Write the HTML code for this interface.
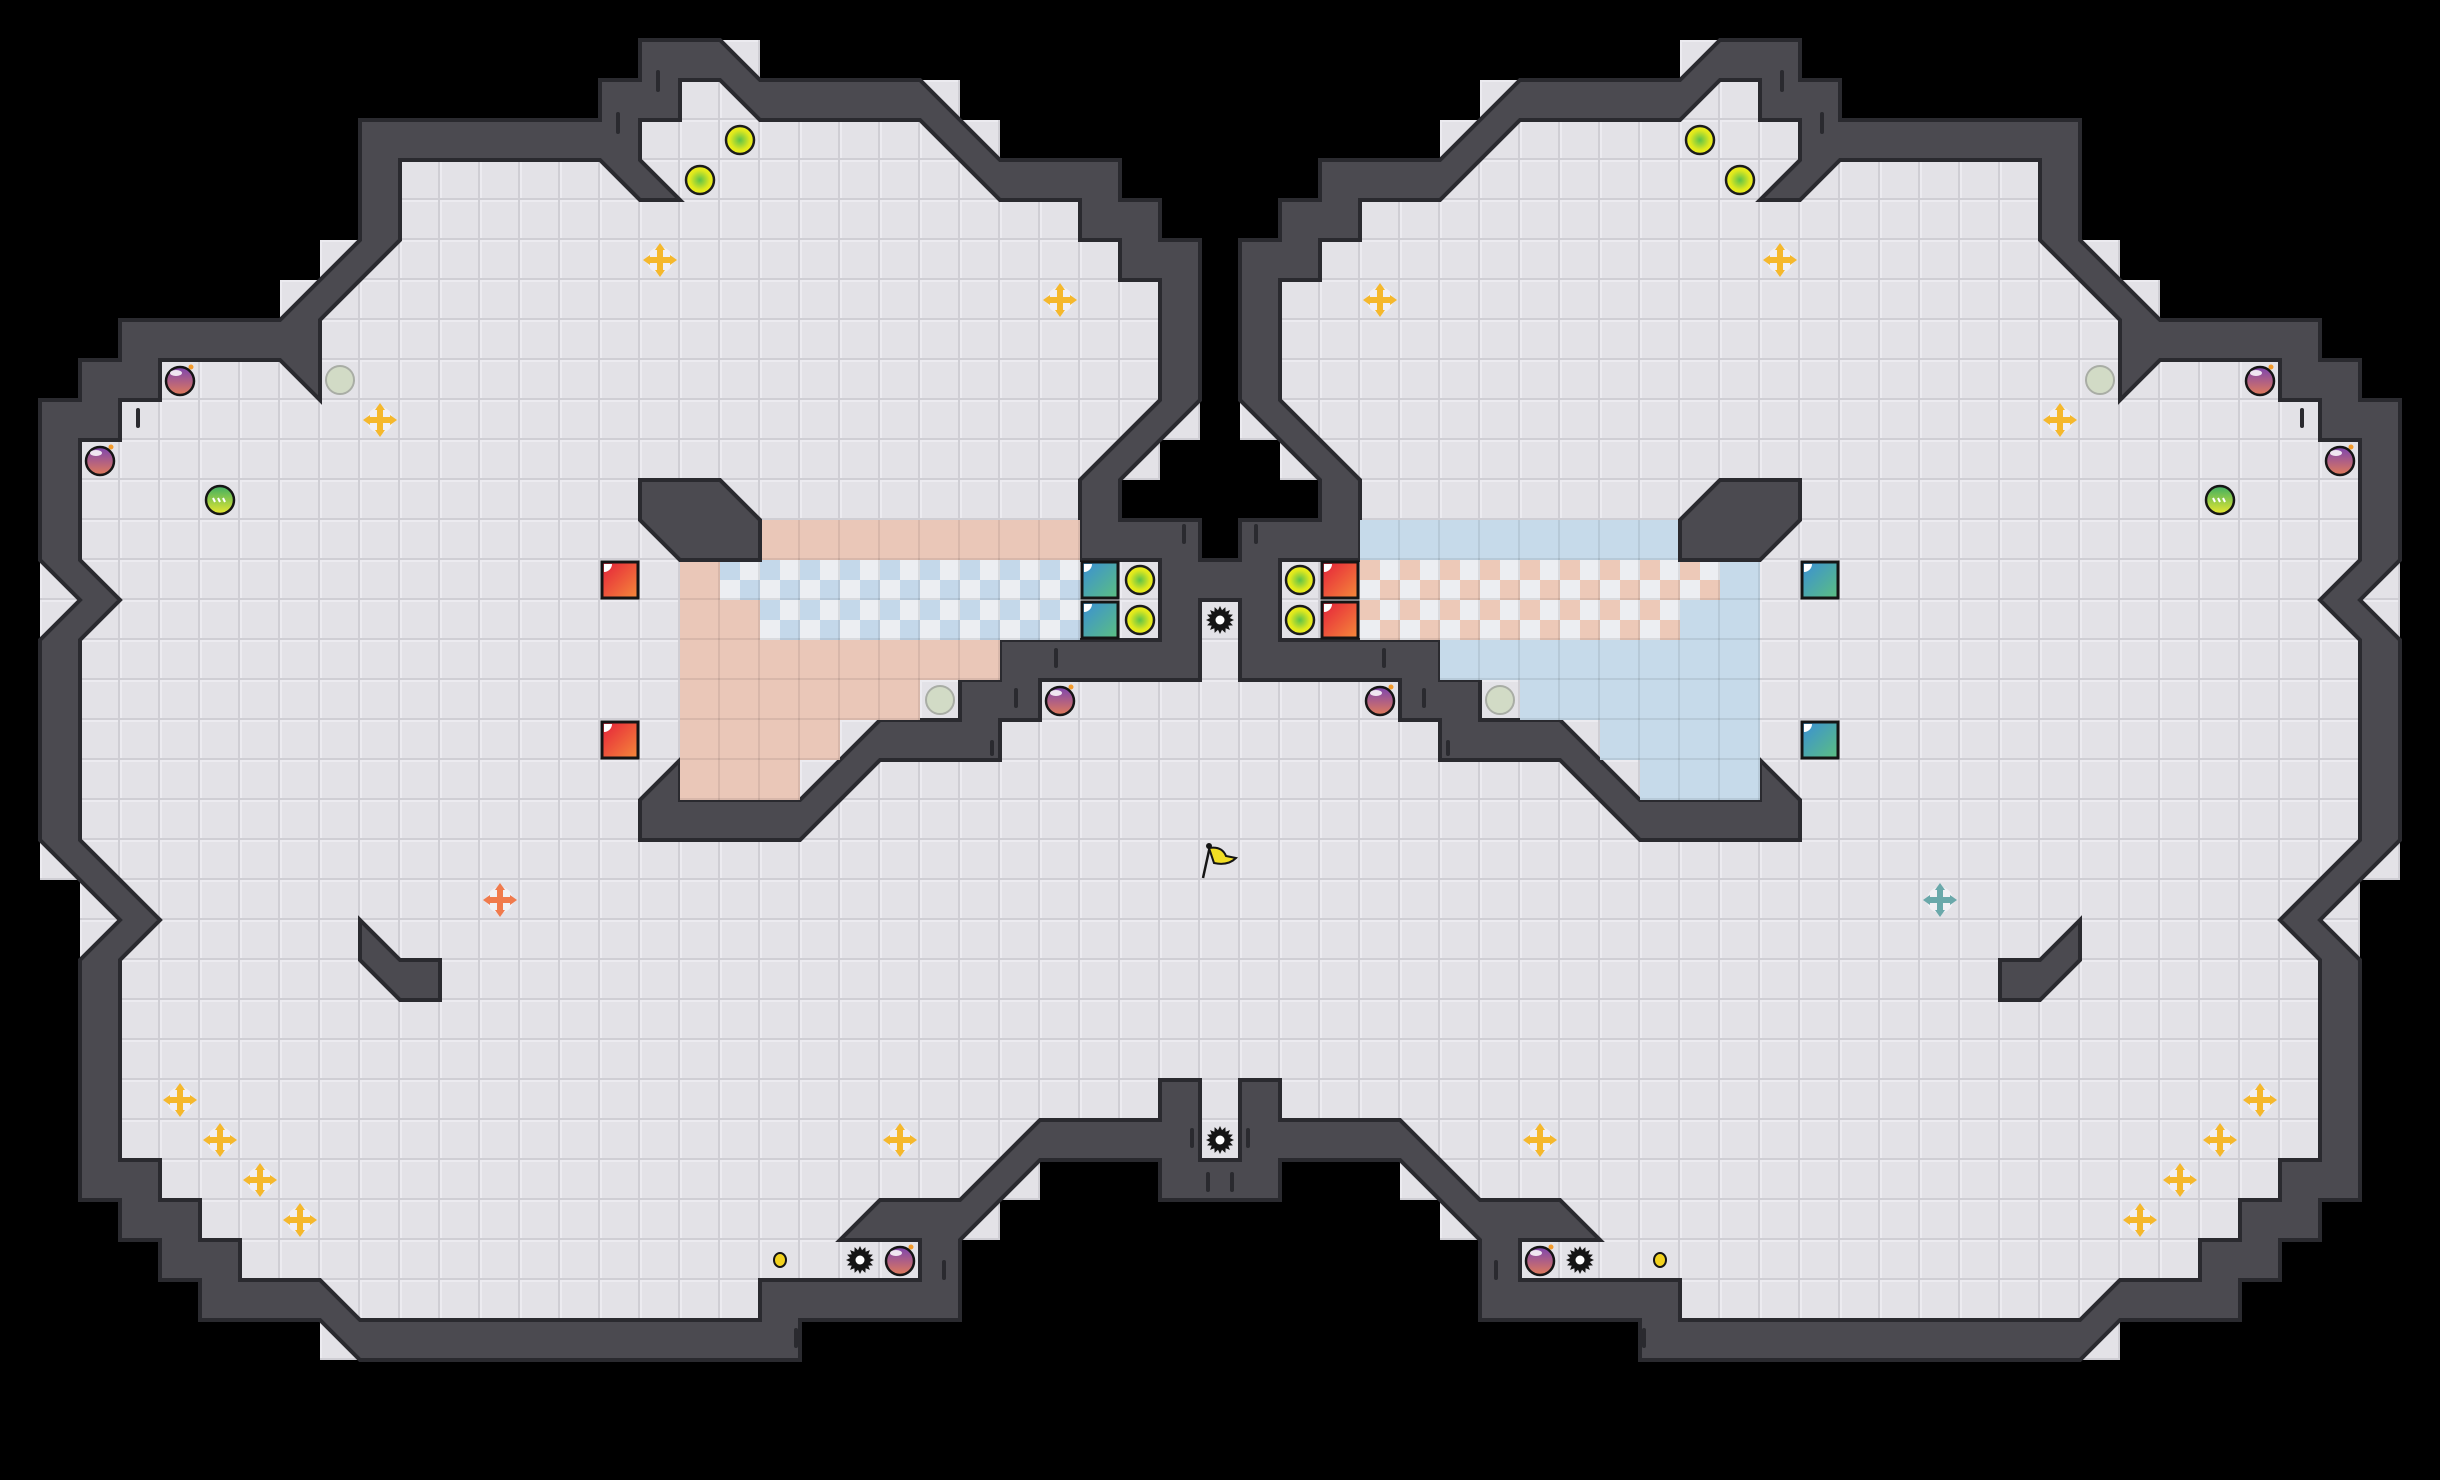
<!DOCTYPE html>
<html><head><meta charset="utf-8">
<style>html,body{margin:0;padding:0;background:#000;}svg{display:block;}</style>
</head><body>
<svg id="s" xmlns="http://www.w3.org/2000/svg" width="2440" height="1480" viewBox="0 0 2440 1480">
<defs>
<pattern id="fl" patternUnits="userSpaceOnUse" width="40" height="40">
<rect width="40" height="40" fill="#e3e2e7"/>
<rect x="0" y="0" width="40" height="2" fill="#ecebf0"/>
<rect x="0" y="0" width="2" height="40" fill="#ecebf0"/>
<rect x="0" y="38" width="40" height="2" fill="#cfced4"/>
<rect x="38" y="0" width="2" height="40" fill="#cfced4"/>
</pattern>
<pattern id="ln" patternUnits="userSpaceOnUse" width="40" height="40">
<rect x="0" y="38" width="40" height="2" fill="rgba(0,0,0,0.08)"/>
<rect x="38" y="0" width="2" height="40" fill="rgba(0,0,0,0.08)"/>
</pattern>
<radialGradient id="gy" cx="0.5" cy="0.5" r="0.5"><stop offset="0" stop-color="#5cc24a"/><stop offset="0.7" stop-color="#dfe81e"/><stop offset="1" stop-color="#eef01a"/></radialGradient>
<linearGradient id="gb" x1="0" y1="0" x2="0" y2="1"><stop offset="0" stop-color="#7d45b0"/><stop offset="1" stop-color="#e07a5a"/></linearGradient>
<linearGradient id="gg" x1="0" y1="0" x2="0" y2="1"><stop offset="0" stop-color="#3fae62"/><stop offset="1" stop-color="#e8e830"/></linearGradient>
<linearGradient id="gr" x1="0" y1="0" x2="1" y2="1"><stop offset="0" stop-color="#e5203a"/><stop offset="1" stop-color="#f58a3a"/></linearGradient>
<linearGradient id="gt" x1="0" y1="0" x2="1" y2="1"><stop offset="0" stop-color="#3a8fd6"/><stop offset="1" stop-color="#5cbf80"/></linearGradient>
</defs>
<rect width="2440" height="1480" fill="#000"/>
<g id="g"></g>
</svg>
<script>
(function(){
var S=40,out=[];
var Lout=[[30.5,14],[30,14],[30,13],[28,13],[28,12],[30,10],[30,6],[29,6],[29,5],[28,5],[28,4],[25,4],[23,2],[19,2],[18,1],[16,1],[16,2],[15,2],[15,3],[9,3],[9,6],[7,8],[3,8],[3,9],[2,9],[2,10],[1,10],[1,14],[2,15],[1,16],[1,21],[3,23],[2,24],[2,30],[3,30],[3,31],[4,31],[4,32],[5,32],[5,33],[8,33],[9,34],[20,34],[20,33],[24,33],[24,31],[26,29],[29,29],[29,30],[30.5,30]];
var Lin=[[30.5,15],[30,15],[30,17],[26,17],[26,18],[25,18],[25,19],[22,19],[20,21],[16,21],[16,20],[17,19],[17,20],[20,20],[22,18],[24,18],[24,17],[25,17],[25,16],[29,16],[29,14],[27,14],[27,12],[29,10],[29,7],[28,7],[28,6],[27,6],[27,5],[25,5],[23,3],[19,3],[18,2],[17,2],[17,3],[16,3],[16,4],[17,5],[16,5],[15,4],[10,4],[10,6],[8,8],[8,10],[7,9],[4,9],[4,10],[3,10],[3,11],[2,11],[2,14],[3,15],[2,16],[2,21],[4,23],[3,24],[3,29],[4,29],[4,30],[5,30],[5,31],[6,31],[6,32],[8,32],[9,33],[19,33],[19,32],[23,32],[23,31],[21,31],[22,30],[24,30],[26,28],[29,28],[29,27],[30,27],[30,29],[30.5,29]];
function full(L){var r=L.slice();for(var i=L.length-1;i>=0;i--){r.push([61-L[i][0],L[i][1]]);}return r;}
function pts(P){return P.map(function(p){return (p[0]*S)+','+(p[1]*S);}).join(' ');}
var FO=full(Lout),FI=full(Lin);
for(var i=0;i<FO.length;i++){var a=FO[i],b=FO[(i+1)%FO.length];var dx=b[0]-a[0],dy=b[1]-a[1];
 if(dx!==0&&dy!==0&&Math.abs(dx)===Math.abs(dy)){var sx=dx>0?1:-1,sy=dy>0?1:-1;
  for(var k=0;k<Math.abs(dx);k++){var xa=a[0]+sx*k,ya=a[1]+sy*k;out.push('<rect x="'+(Math.min(xa,xa+sx)*S)+'" y="'+(Math.min(ya,ya+sy)*S)+'" width="40" height="40" fill="url(#fl)"/>');}}}
out.push('<polygon points="'+pts(FO)+'" fill="#4b4a50" stroke="#2a2a2f" stroke-width="4" stroke-linejoin="miter"/>');
out.push('<polygon points="'+pts(FI)+'" fill="url(#fl)" stroke="#2a2a2f" stroke-width="4" stroke-linejoin="miter"/>');
var zones={13:[19,26],16:[17,24],17:[17,22],18:[17,20],19:[17,19]};
function zcell(c,r,col){out.push('<rect x="'+c*S+'" y="'+r*S+'" width="40" height="40" fill="'+col+'"/><rect x="'+c*S+'" y="'+r*S+'" width="40" height="40" fill="url(#ln)"/>');}
function chk(c,r,col){var x0=c*S,y0=r*S;out.push('<rect x="'+x0+'" y="'+y0+'" width="40" height="40" fill="#eceef2"/>');
 for(var a=0;a<2;a++)for(var b=0;b<2;b++){var X=x0+a*20,Y=y0+b*20;if(((X/20)+(Y/20))%2===0)out.push('<rect x="'+X+'" y="'+Y+'" width="20" height="20" fill="'+col+'"/>');}
 out.push('<rect x="'+x0+'" y="'+y0+'" width="40" height="40" fill="url(#ln)"/>');}
var PK='#eac7b8',BL='#c6daea',CB='#c4d8ea',CP='#edc9b8';
function zrow(r,c0,c1){for(var c=c0;c<=c1;c++){zcell(c,r,PK);zcell(60-c,r,BL);}}
for(var r in zones)zrow(+r,zones[r][0],zones[r][1]);
zrow(14,17,17);zrow(15,17,18);
for(var c=18;c<=26;c++){chk(c,14,CB);chk(60-c,14,CP);}
for(c=19;c<=26;c++){chk(c,15,CB);chk(60-c,15,CP);}
function mir(P){return P.map(function(p){return [61-p[0],p[1]];});}
var ob=[[[16,12],[18,12],[19,13],[19,14],[17,14],[16,13]],[[9,23],[10,24],[11,24],[11,25],[10,25],[9,24]]];
ob.forEach(function(P){[P,mir(P)].forEach(function(Q){out.push('<polygon points="'+pts(Q)+'" fill="#4b4a50" stroke="#2a2a2f" stroke-width="4"/>');});});
var ticks=[[16.45,1.75,0.55],[15.45,2.8,0.55],[4.45,9.2,0.5],[3.45,10.2,0.5],[25.4,17.2,0.5],[26.4,16.2,0.5],[29.6,13.1,0.5],[24.8,18.5,0.4],[19.9,33.2,0.5],[23.6,31.5,0.5],[29.8,28.2,0.5],[30.8,29.3,0.5]];
ticks.forEach(function(t){[t[0],61-t[0]].forEach(function(x){out.push('<rect x="'+(x*S-2)+'" y="'+(t[1]*S)+'" width="4" height="'+(t[2]*S)+'" rx="2" fill="#2a2a2f"/>');});});
function C(c){return (c+0.5)*S;}
function ball(c,r){out.push('<circle cx="'+C(c)+'" cy="'+C(r)+'" r="14" fill="url(#gy)" stroke="#1b1b1b" stroke-width="2.5"/>');}
function block(c,r,g){var x=c*S+2,y=r*S+2;out.push('<rect x="'+x+'" y="'+y+'" width="36" height="36" fill="url(#'+g+')" stroke="#151515" stroke-width="3"/><path d="M'+(x+2)+' '+(y+2)+' h8 a8 8 0 0 1 -8 8 z" fill="#fff"/>');}
function cross(c,r,col){var x=C(c),y=C(r);out.push('<circle cx="'+x+'" cy="'+y+'" r="13" fill="#f4f4f7" opacity="0.8"/>'+
 '<rect x="'+(x-13)+'" y="'+(y-3)+'" width="26" height="6" fill="'+col+'"/><rect x="'+(x-3)+'" y="'+(y-13)+'" width="6" height="26" fill="'+col+'"/>'+
 '<polygon points="'+x+','+(y-17)+' '+(x-5)+','+(y-10)+' '+(x+5)+','+(y-10)+'" fill="'+col+'"/>'+
 '<polygon points="'+x+','+(y+17)+' '+(x-5)+','+(y+10)+' '+(x+5)+','+(y+10)+'" fill="'+col+'"/>'+
 '<polygon points="'+(x-17)+','+y+' '+(x-10)+','+(y-5)+' '+(x-10)+','+(y+5)+'" fill="'+col+'"/>'+
 '<polygon points="'+(x+17)+','+y+' '+(x+10)+','+(y-5)+' '+(x+10)+','+(y+5)+'" fill="'+col+'"/>');}
function grey(c,r){out.push('<circle cx="'+C(c)+'" cy="'+C(r)+'" r="14" fill="#d2dbc6" stroke="#a9ada5" stroke-width="2"/>');}
function bomb(c,r){var x=C(c),y=C(r)+1;out.push('<circle cx="'+x+'" cy="'+y+'" r="14" fill="url(#gb)" stroke="#151515" stroke-width="2.5"/><ellipse cx="'+(x-4)+'" cy="'+(y-8)+'" rx="6" ry="3" fill="#fff" opacity="0.85"/><circle cx="'+(x+11)+'" cy="'+(y-14)+'" r="2.5" fill="#f39a2a"/>');}
function gball(c,r){var x=C(c),y=C(r);out.push('<circle cx="'+x+'" cy="'+y+'" r="14" fill="url(#gg)" stroke="#151515" stroke-width="2.5"/><path d="M'+(x-7)+' '+(y-2)+' l2 4 M'+(x-2)+' '+(y-2)+' l2 4 M'+(x+3)+' '+(y-2)+' l2 4" stroke="#fff" stroke-width="2"/>');}
function spike(c,r){var x=C(c),y=C(r),p=[];for(var k=0;k<32;k++){var a=k*Math.PI/16,R=k%2?10:14;p.push((x+R*Math.cos(a)).toFixed(1)+','+(y+R*Math.sin(a)).toFixed(1));}
 out.push('<polygon points="'+p.join(' ')+'" fill="#151515"/><circle cx="'+x+'" cy="'+y+'" r="4.5" fill="#fff"/>');}
function dot(c,r){out.push('<ellipse cx="'+C(c)+'" cy="'+C(r)+'" rx="6" ry="7" fill="#f2d21e" stroke="#151515" stroke-width="2"/>');}
[[18,3],[17,4],[28,14],[28,15]].forEach(function(p){ball(p[0],p[1]);ball(60-p[0],p[1]);});
block(27,14,'gt');block(27,15,'gt');block(33,14,'gr');block(33,15,'gr');
block(15,14,'gr');block(15,18,'gr');block(45,14,'gt');block(45,18,'gt');
[[16,6],[26,7],[9,10],[4,27],[5,28],[6,29],[7,30],[22,28]].forEach(function(p){cross(p[0],p[1],'#f5b82c');cross(60-p[0],p[1],'#f5b82c');});
cross(12,22,'#f07a4c');cross(48,22,'#6aa8aa');
[[8,9],[23,17]].forEach(function(p){grey(p[0],p[1]);grey(60-p[0],p[1]);});
[[4,9],[2,11],[26,17],[22,31]].forEach(function(p){bomb(p[0],p[1]);bomb(60-p[0],p[1]);});
gball(5,12);gball(55,12);
spike(21,31);spike(39,31);spike(30,15);spike(30,28);
dot(19,31);dot(41,31);
out.push('<path d="M1203 878 L1210 846" stroke="#151515" stroke-width="2.5"/><path d="M1209 848 Q1222 846 1226 856 L1236 858 Q1228 866 1214 863 Z" fill="#f2de24" stroke="#151515" stroke-width="2"/><circle cx="1209" cy="846" r="3" fill="#151515"/>');
document.getElementById('g').innerHTML=out.join('');
})();
</script>
</body></html>
